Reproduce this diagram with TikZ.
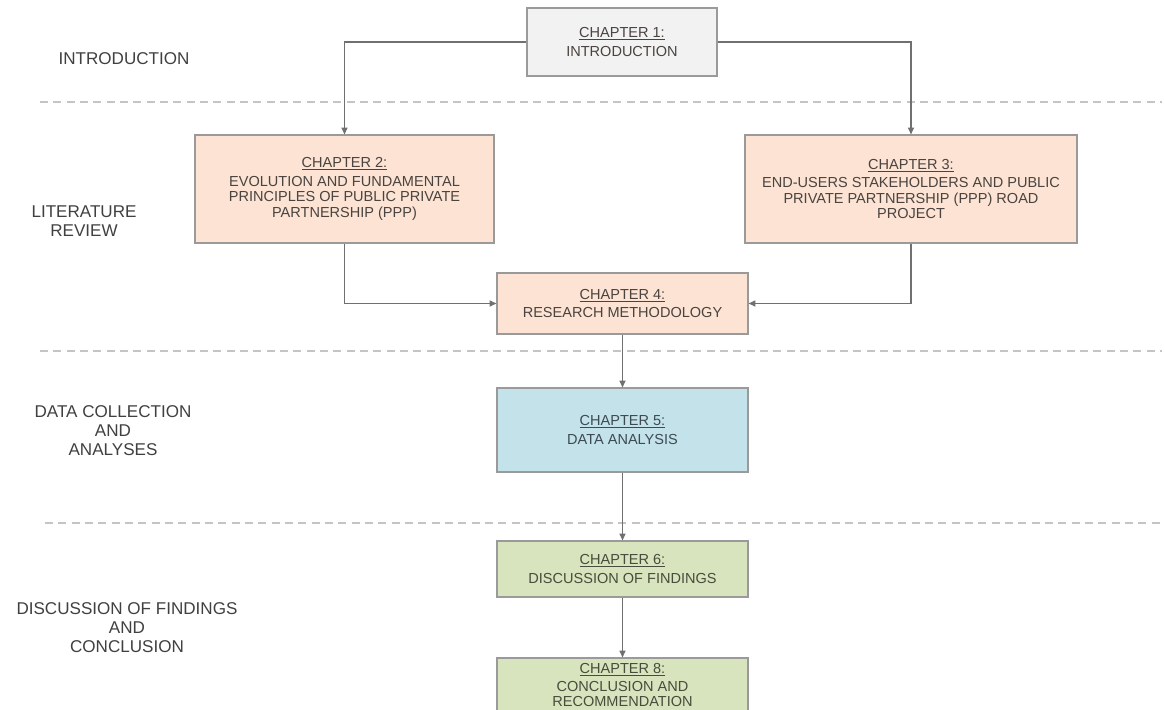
\documentclass[tikz,border=0pt]{standalone}
\usepackage{fontspec}
\setmainfont{Liberation Sans}
\usetikzlibrary{arrows.meta}

\definecolor{boxline}{HTML}{9A9A9A}
\definecolor{greyfill}{HTML}{F2F2F2}
\definecolor{peachfill}{HTML}{FCE3D3}
\definecolor{bluefill}{HTML}{C3E2EA}
\definecolor{greenfill}{HTML}{D8E4BE}
\definecolor{linkgrey}{HTML}{707070}
\definecolor{sepgrey}{HTML}{C4C4C4}
\definecolor{labeltext}{HTML}{404040}
\definecolor{boxtext}{HTML}{4A4340}
\definecolor{bluetext}{HTML}{3E4A52}
\definecolor{greentext}{HTML}{484C3C}

\tikzset{
  chapbox/.style={draw=boxline, line width=0.9pt, align=center, inner sep=2pt,
    text=boxtext, font=\fontsize{10.9}{11.6}\selectfont},
  sectionlabel/.style={align=center, text=labeltext,
    font=\fontsize{12.8}{14.2}\selectfont},
  link/.style={draw=linkgrey, line width=0.8pt, -{Triangle[length=5pt,width=4.5pt]}},
  separator/.style={draw=sepgrey, line width=1.1pt, dash pattern=on 6pt off 4pt}
}

\begin{document}
\begin{tikzpicture}[x=0.75pt, y=-0.75pt]
\useasboundingbox (0,0) rectangle (1165,710);
\clip (0,0) rectangle (1165,710);

% section separators
\coordinate (s1a) at (40,102);  \coordinate (s1b) at (1162,102);
\coordinate (s2a) at (40,351);  \coordinate (s2b) at (1162,351);
\coordinate (s3a) at (45,523);  \coordinate (s3b) at (1162,523);
\draw[separator] (s1a) -- (s1b);
\draw[separator] (s2a) -- (s2b);
\draw[separator] (s3a) -- (s3b);

% section labels
\node[sectionlabel] (lintro) at (124,59) {INTRODUCTION};
\node[sectionlabel] (llit) at (84,221) {LITERATURE\\REVIEW};
\node[sectionlabel] (ldata) at (113,431) {DATA COLLECTION\\AND\\ANALYSES};
\node[sectionlabel] (ldisc) at (127,628) {DISCUSSION OF FINDINGS\\AND\\CONCLUSION};

% chapter boxes
\node[chapbox, fill=greyfill, minimum width=142.5pt, minimum height=51pt] (c1) at (622,42)
  {\underline{CHAPTER 1:}\\[2.5pt]INTRODUCTION};
\node[chapbox, fill=peachfill, minimum width=224.25pt, minimum height=81pt] (c2) at (344.5,189)
  {\underline{CHAPTER 2:}\\[2.5pt]EVOLUTION AND FUNDAMENTAL\\PRINCIPLES OF PUBLIC PRIVATE\\PARTNERSHIP (PPP)};
\node[chapbox, fill=peachfill, minimum width=249pt, minimum height=81pt] (c3) at (911,189)
  {\underline{CHAPTER 3:}\\[2.5pt]END-USERS STAKEHOLDERS AND PUBLIC\\PRIVATE PARTNERSHIP (PPP) ROAD\\PROJECT};
\node[chapbox, fill=peachfill, minimum width=188.25pt, minimum height=45.75pt] (c4) at (622.5,303.5)
  {\underline{CHAPTER 4:}\\[2.5pt]RESEARCH METHODOLOGY};
\node[chapbox, fill=bluefill, text=bluetext, minimum width=188.25pt, minimum height=63pt] (c5) at (622.5,430)
  {\underline{CHAPTER 5:}\\[2.5pt]DATA ANALYSIS};
\node[chapbox, fill=greenfill, text=greentext, minimum width=188.25pt, minimum height=42pt] (c6) at (622.5,569)
  {\underline{CHAPTER 6:}\\[2.5pt]DISCUSSION OF FINDINGS};
\node[chapbox, fill=greenfill, text=greentext, minimum width=188.25pt, minimum height=40.5pt] (c8) at (622.5,685)
  {\underline{CHAPTER 8:}\\[1.5pt]CONCLUSION AND\\RECOMMENDATION};

% connectors
\draw[link] (c1.west) -| (c2.north);
\draw[link] (c1.east) -| (c3.north);
\draw[link] (c2.south) |- (c4.west);
\draw[link] (c3.south) |- (c4.east);
\draw[link] (c4.south) -- (c5.north);
\draw[link] (c5.south) -- (c6.north);
\draw[link] (c6.south) -- (c8.north);
\end{tikzpicture}
\end{document}
